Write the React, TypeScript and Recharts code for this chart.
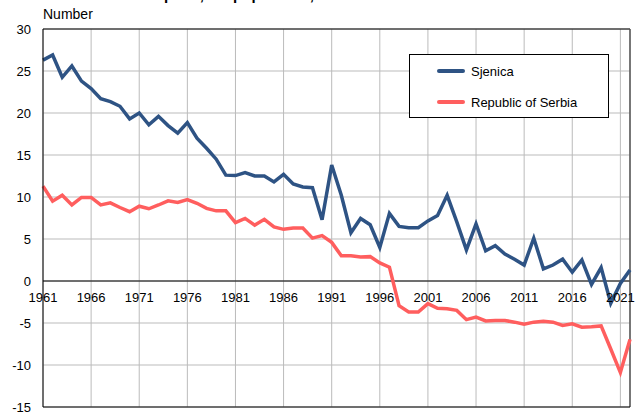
import { LineChart, Line, XAxis, YAxis, CartesianGrid, ReferenceLine, Legend } from 'recharts';

const years = [
  1961, 1962, 1963, 1964, 1965, 1966, 1967, 1968, 1969, 1970,
  1971, 1972, 1973, 1974, 1975, 1976, 1977, 1978, 1979, 1980,
  1981, 1982, 1983, 1984, 1985, 1986, 1987, 1988, 1989, 1990,
  1991, 1992, 1993, 1994, 1995, 1996, 1997, 1998, 1999, 2000,
  2001, 2002, 2003, 2004, 2005, 2006, 2007, 2008, 2009, 2010,
  2011, 2012, 2013, 2014, 2015, 2016, 2017, 2018, 2019, 2020,
  2021, 2022,
];

const sjenica = [
  26.3, 26.9, 24.25, 25.6, 23.8, 22.9, 21.7, 21.35, 20.8, 19.3,
  20.0, 18.6, 19.6, 18.5, 17.6, 18.85, 17.0, 15.8, 14.5, 12.6,
  12.55, 12.9, 12.5, 12.5, 11.8, 12.7, 11.55, 11.2, 11.1, 7.3,
  13.8, 10.2, 5.75, 7.45, 6.7, 4.0, 8.05, 6.5, 6.35, 6.35,
  7.15, 7.8, 10.2, 7.05, 3.7, 6.8, 3.6, 4.2, 3.2, 2.6,
  1.9, 5.1, 1.45, 1.9, 2.6, 1.05, 2.5, -0.4, 1.6, -2.65,
  -0.3, 1.3,
];

const serbia = [
  11.3, 9.5, 10.2, 9.05, 9.95, 9.95, 9.05, 9.3, 8.75, 8.25,
  8.9, 8.6, 9.05, 9.55, 9.35, 9.7, 9.25, 8.65, 8.35, 8.35,
  6.95, 7.45, 6.65, 7.35, 6.45, 6.15, 6.3, 6.3, 5.1, 5.4,
  4.6, 3.0, 3.0, 2.85, 2.9, 2.15, 1.65, -2.95, -3.7, -3.7,
  -2.7, -3.25, -3.3, -3.5, -4.6, -4.3, -4.75, -4.7, -4.7, -4.9,
  -5.15, -4.9, -4.8, -4.9, -5.3, -5.1, -5.5, -5.45, -5.35, -8.1,
  -10.9, -6.95,
];

const seriesOrder = ['Sjenica', 'Republic of Serbia'];
const xTicks = [1961, 1966, 1971, 1976, 1981, 1986, 1991, 1996, 2001, 2006, 2011, 2016, 2021];
const yTicks = [30, 25, 20, 15, 10, 5, 0, -5, -10, -15];

const Y_MIN = -15;
const Y_MAX = 30;

const data = years.map((year, i) => ({ year, sjenica: sjenica[i], serbia: serbia[i] }));

const FONT = '"Liberation Sans", Arial, sans-serif';
const W = 644;
const H = 412;
const X_AXIS_H = 1;
const MARGIN = { top: 29, right: 14, bottom: 4, left: 0 };
const plotHeight = H - MARGIN.top - MARGIN.bottom - X_AXIS_H;
// distance from the bottom of the plot up to the zero line
const zeroShift = (plotHeight * (0 - Y_MIN)) / (Y_MAX - Y_MIN);

function YearTick(props: any) {
  const { x, y, payload } = props;
  return (
    <text
      x={x}
      y={y - zeroShift + 21}
      textAnchor="middle"
      fontSize={13}
      fill="#000"
      stroke="none"
      fontWeight="normal"
      fontFamily={FONT}
    >
      {payload.value}
    </text>
  );
}

function LegendBox({ payload }: any) {
  const items = [...(payload || [])].sort(
    (a: any, b: any) => seriesOrder.indexOf(a.value) - seriesOrder.indexOf(b.value)
  );
  return (
    <div style={{ position: 'relative', border: '1px solid #000', background: '#fff', width: 198, height: 62, fontFamily: FONT, fontSize: 13 }}>
      {items.map((item: any) => (
        <div key={item.value} style={{ position: 'absolute', left: 27, top: 9 + seriesOrder.indexOf(item.value) * 31, display: 'flex', alignItems: 'center', height: 14 }}>
          <div style={{ width: 28, height: 4, background: item.color, borderRadius: 2, marginRight: 6 }} />
          <span>{item.value}</span>
        </div>
      ))}
    </div>
  );
}

export default function App() {
  return (
    <div style={{ position: 'absolute', left: 0, top: 0, width: W, height: H, background: '#fff', overflow: 'hidden', fontFamily: FONT }}>
      <div style={{ position: 'absolute', left: 43, top: -14, fontSize: 15, fontWeight: 'bold', whiteSpace: 'nowrap' }}>
        Natural increase per 1,000 population, 1961 - 2022
      </div>
      <div style={{ position: 'absolute', left: 43, top: 6, fontSize: 14 }}>Number</div>
      <LineChart width={W} height={H} data={data} margin={MARGIN}>
        <CartesianGrid stroke="#bbbbbb" strokeWidth={1} />
        <XAxis
          dataKey="year"
          type="number"
          domain={[1961, 2022]}
          ticks={xTicks}
          height={X_AXIS_H}
          tickSize={0}
          tickMargin={0}
          axisLine={{ stroke: '#000' }}
          tick={YearTick}
          interval={0}
        />
        <YAxis
          type="number"
          domain={[Y_MIN, Y_MAX]}
          ticks={yTicks}
          width={43}
          tickSize={0}
          tickMargin={12}
          axisLine={{ stroke: '#000' }}
          tick={{ fontSize: 13, fill: '#000', fontFamily: FONT }}
          interval={0}
        />
        <ReferenceLine y={0} stroke="#000" strokeWidth={1} />
        <ReferenceLine y={Y_MAX} stroke="#000" strokeWidth={1} />
        <ReferenceLine x={2022} stroke="#555" strokeWidth={1.5} />
        <Legend
          layout="horizontal"
          verticalAlign="middle"
          align="center"
          content={<LegendBox />}
          wrapperStyle={{ position: 'absolute', left: 409, top: 54, width: 200, height: 64 }}
        />
        <Line
          type="linear"
          dataKey="sjenica"
          name="Sjenica"
          stroke="#2E5384"
          strokeWidth={3.5}
          dot={false}
          isAnimationActive={false}
        />
        <Line
          type="linear"
          dataKey="serbia"
          name="Republic of Serbia"
          stroke="#FF5E5E"
          strokeWidth={3.5}
          dot={false}
          isAnimationActive={false}
        />
      </LineChart>
    </div>
  );
}
